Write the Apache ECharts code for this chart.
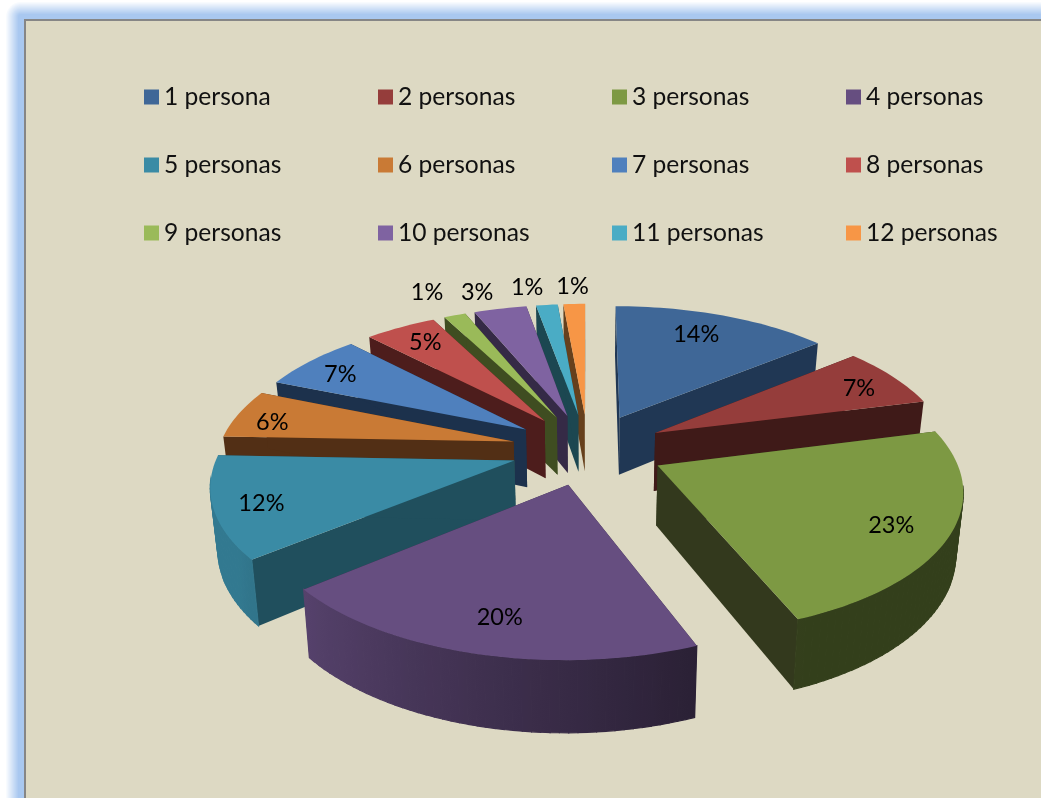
<!DOCTYPE html>
<html>
<head>
<meta charset="utf-8">
<style>html,body{margin:0;padding:0;background:#fff;overflow:hidden}#c{width:1041px;height:798px}</style>
<script src="https://cdn.jsdelivr.net/npm/echarts@6/dist/echarts.min.js"></script>
</head>
<body>
<div id="c"></div>
<script>
// Household size shares, in percent; the labels show them rounded
const categories = ['1 persona','2 personas','3 personas','4 personas','5 personas','6 personas',
  '7 personas','8 personas','9 personas','10 personas','11 personas','12 personas'];
const shares = [14, 7, 23, 20, 11.6, 5.6, 6.6, 4.6, 1.4, 3.4, 1.4, 1.4];

// Face colours of each wedge and of its inner walls
const topColors = ['#3F6797','#953D3B','#7D9943','#664E80','#3A8BA5','#C97A35',
  '#4F80BD','#BF504D','#9ABA59','#7F63A1','#4AACC5','#F79646'];
const wallColors = ['#203754','#3F1A18','#33391D','#352A46','#204F5D','#522F15',
  '#1C314C','#4D1D1C','#3F4D21','#352A46','#1C4751','#66401C'];

// Paint order, back of the pie first
const paintOrder = [1, 2, 3, 10, 8, 7, 6, 5, 4, 3, 2, 1];
// Percent label placement: radius in pie units, angular nudge in degrees
const labelPlace = [[.78,-1.9],[.83,1.9],[.82,2.1],[.81,-1],[.85,-1.3],[.86,-2.6],
  [.83,-1.6],[.82,.4],[1.27,-.8],[1.195,-2.4],[1.19,-2.9],[1.19,0]];

// Projection of the tilted pie
const view = {cx: 588, cy: 449, sx: 295, sy: 137, persp: .15, explode: .26, drop: 59, converge: .02};
const rad = d => d * Math.PI / 180;
const total = shares.reduce((a, b) => a + b, 0);

function project(X, Y, low) {
  const w = 1 - view.persp * Y;
  const k = low ? 1 - view.converge : 1;
  return [view.cx + view.sx * X * k / w, view.cy + (view.sy * Y + (low ? view.drop : 0)) / w];
}
function sliceRange(index) {
  let before = 0;
  for (let i = 0; i < index; i++) before += shares[i];
  return [before / total * 360, (before + shares[index]) / total * 360];
}
function rimPoint(a, mid, low, r) {
  const R = r === undefined ? 1 : r;
  const X = R * Math.sin(rad(a)) + view.explode * Math.sin(rad(mid));
  const Y = -R * Math.cos(rad(a)) - view.explode * Math.cos(rad(mid));
  return project(X, Y, low);
}
function mix(hex, f) {
  const n = parseInt(hex.slice(1), 16);
  const c = [(n >> 16) & 255, (n >> 8) & 255, n & 255].map(v => Math.round(v * f));
  return 'rgb(' + c.join(',') + ')';
}
// Rim brightness: lit from the left, falling away towards the right
function rimShade(a) {
  if (a >= 235) return .87;
  if (a <= 158) return .41;
  return .41 + (a - 158) / 77 * .46;
}

function drawSlice(index, value) {
  const [a0, a1] = sliceRange(index);
  const mid = (a0 + a1) / 2;
  const children = [];
  const topArc = [];
  const steps = Math.max(2, Math.ceil((a1 - a0) / 1.5));
  for (let i = 0; i <= steps; i++) topArc.push(rimPoint(a0 + (a1 - a0) * i / steps, mid, false));
  const apexTop = rimPoint(0, mid, false, 0);
  const apexLow = rimPoint(0, mid, true, 0);

  [a0, a1].forEach(a => {
    children.push({type: 'polygon', silent: true, z2: 1,
      shape: {points: [apexTop, rimPoint(a, mid, false), rimPoint(a, mid, true), apexLow]},
      style: {fill: wallColors[index]}});
  });

  // Outer rim, only where it faces the viewer: the tilt puts the silhouette tangents near 100 and 260 degrees
  const r0 = Math.max(a0, 98), r1 = Math.min(a1, 262);
  if (r1 > r0) {
    const samples = [];
    const n = Math.max(2, Math.ceil((r1 - r0) / 1.5));
    for (let i = 0; i <= n; i++) {
      const a = r0 + (r1 - r0) * i / n;
      samples.push({up: rimPoint(a, mid, false), low: rimPoint(a, mid, true), c: mix(topColors[index], rimShade(a))});
    }
    const xs = samples.map(s => s.up[0]);
    const minX = Math.min(...xs), maxX = Math.max(...xs);
    const stops = samples.slice().sort((p, q) => p.up[0] - q.up[0])
      .map(s => ({offset: (s.up[0] - minX) / Math.max(1, maxX - minX), color: s.c}));
    const paint = new echarts.graphic.LinearGradient(minX, 0, maxX, 0, stops, true);
    for (let i = 0; i < n; i++) {
      children.push({type: 'polygon', silent: true, z2: 2,
        shape: {points: [samples[i].up, samples[i + 1].up, samples[i + 1].low, samples[i].low]},
        style: {fill: paint, stroke: paint, lineWidth: 1.2}});
    }
  }

  children.push({type: 'polygon', silent: true, z2: 3,
    shape: {points: [apexTop].concat(topArc)},
    style: {fill: topColors[index]}});

  const lp = rimPoint(mid + labelPlace[index][1], mid, false, labelPlace[index][0]);
  children.push({type: 'text', silent: true, z2: 4,
    style: {x: lp[0], y: lp[1], text: Math.round(value / total * 100) + '%',
      fill: '#000', font: '23.5px Lato', align: 'center', verticalAlign: 'middle'}});
  return {type: 'group', children};
}

// Soft blue halo behind the panel, built from nested rounded rectangles
const haloFrom = [255, 255, 255], haloTo = [169, 200, 240], haloSteps = 13;
const halo = [];
for (let i = 0; i <= haloSteps; i++) {
  const t = i / haloSteps;
  const c = haloFrom.map((v, k) => Math.round(v + (haloTo[k] - v) * t));
  halo.push({type: 'rect', z: i / 100, silent: true,
    shape: {x: 5 + i, y: 1 + i, width: 1300, height: 1100, r: 16 - i},
    style: {fill: 'rgb(' + c.join(',') + ')'}});
}

const chart = echarts.init(document.getElementById('c'));
chart.setOption({
  animation: false,
  graphic: halo.concat([
    {type: 'rect', z: 1, silent: true, shape: {x: 25, y: 20, width: 1300, height: 1100},
      style: {fill: '#DDD9C3', stroke: '#868686', lineWidth: 2}}
  ]),
  legend: {
    z: 20, left: 144, top: 83, width: 940, itemGap: 40, itemWidth: 15, itemHeight: 15,
    icon: 'rect', padding: 0, selectedMode: false,
    textStyle: {color: '#111', fontFamily: 'Lato', fontSize: 24.6, width: 174, height: 28, lineHeight: 28, overflow: 'none'},
    data: categories
  },
  series: categories.map((name, i) => ({
    type: 'custom', name, coordinateSystem: 'none', silent: true, z: 5 + paintOrder[i],
    itemStyle: {color: topColors[i]},
    data: [shares[i]],
    renderItem: (params, api) => drawSlice(i, api.value(0))
  }))
});
</script>
</body>
</html>
